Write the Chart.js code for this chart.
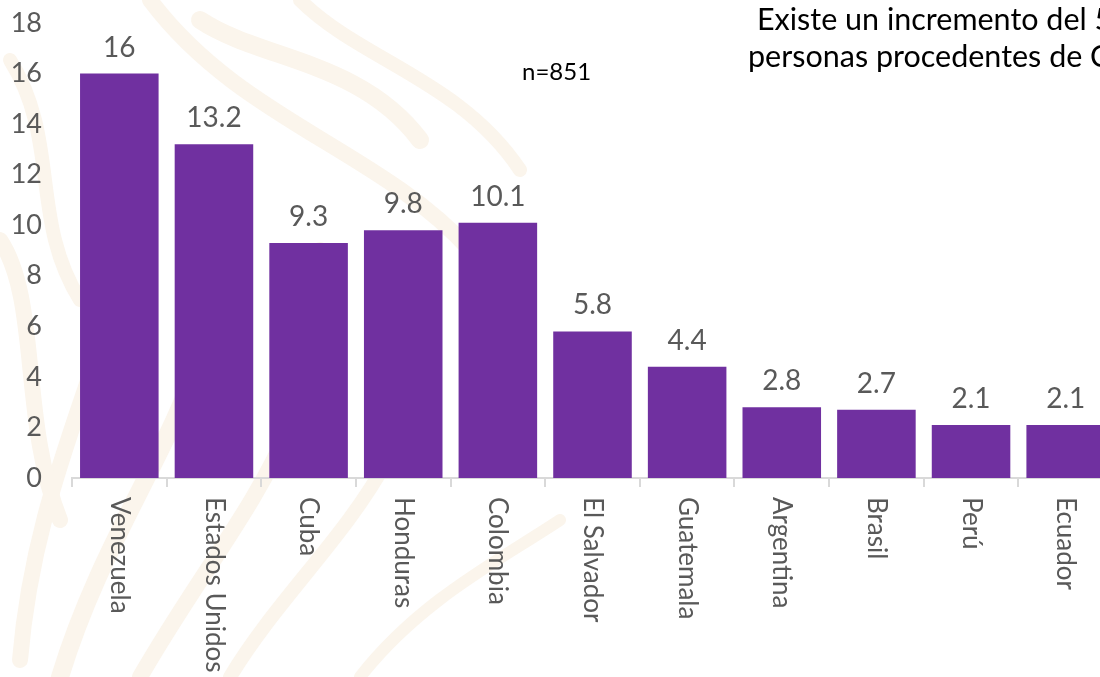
<!DOCTYPE html>
<html>
<head>
<meta charset="utf-8">
<script src="https://cdn.jsdelivr.net/npm/chart.js@4"></script>
<style>
  html, body { margin: 0; padding: 0; background: #fff; overflow: hidden; }
  #wrap { position: relative; width: 1120px; height: 677px; }
</style>
</head>
<body>
<div id="wrap"><canvas id="chart"></canvas></div>
<script>
// ===== DATA =====
const paises  = ['Venezuela', 'Estados Unidos', 'Cuba', 'Honduras', 'Colombia', 'El Salvador',
                 'Guatemala', 'Argentina', 'Brasil', 'Perú', 'Ecuador'];
const valores = [16, 13.2, 9.3, 9.8, 10.1, 5.8, 4.4, 2.8, 2.7, 2.1, 2.1];
const yTicks  = [0, 2, 4, 6, 8, 10, 12, 14, 16, 18];
const nota    = ['Existe un incremento del 5', 'personas procedentes de C'];
const muestra = 'n=851';

const FONT = 'Lato, "Open Sans", sans-serif';
const GRIS = '#595959';
const MORADO = '#7030A0';

// faint watermark swirls behind the chart
const fondo = {
  id: 'fondo',
  beforeDraw(chart) {
    const ctx = chart.ctx;
    ctx.save();
    ctx.fillStyle = '#fff';
    ctx.fillRect(0, 0, chart.width, chart.height);
    ctx.strokeStyle = '#fbf5ec';
    ctx.lineCap = 'round';
    const curvas = [
      [20, 660, 40, 420, 160, 300, 120, 120, 16],
      [60, 677, 120, 480, 240, 380, 220, 180, 18],
      [140, 677, 230, 520, 330, 430, 320, 250, 16],
      [230, 677, 300, 560, 430, 470, 420, 320, 14],
      [200, 20, 260, 60, 360, 60, 420, 140, 18],
      [150, 0, 240, 120, 380, 150, 470, 250, 16],
      [300, 0, 360, 60, 460, 80, 520, 170, 14],
      [0, 240, 40, 300, 20, 420, 60, 520, 16],
      [360, 677, 420, 600, 500, 560, 560, 520, 12],
      [10, 60, 60, 140, 30, 220, 80, 300, 14]
    ];
    curvas.forEach(c => {
      ctx.lineWidth = c[8];
      ctx.beginPath();
      ctx.moveTo(c[0], c[1]);
      ctx.bezierCurveTo(c[2], c[3], c[4], c[5], c[6], c[7]);
      ctx.stroke();
    });
    ctx.restore();
  }
};

// value labels, rotated category labels and text notes
const etiquetas = {
  id: 'etiquetas',
  afterDraw(chart) {
    const ctx = chart.ctx;
    const x = chart.scales.x;
    const meta = chart.getDatasetMeta(0);
    ctx.save();
    ctx.fillStyle = GRIS;
    ctx.font = `28px ${FONT}`;
    ctx.textAlign = 'center';
    ctx.textBaseline = 'bottom';
    meta.data.forEach((bar, i) => {
      ctx.fillText(String(valores[i]), bar.x, bar.y - 12);
    });

    ctx.font = `26px ${FONT}`;
    ctx.textAlign = 'left';
    ctx.textBaseline = 'middle';
    paises.forEach((p, i) => {
      const px = x.getPixelForValue(i);
      ctx.save();
      ctx.translate(px, x.top + 19);
      ctx.rotate(Math.PI / 2);
      ctx.fillText(p, 0, 0);
      ctx.restore();
    });

    ctx.fillStyle = '#000';
    ctx.font = `24px ${FONT}`;
    ctx.textAlign = 'left';
    ctx.fillText(muestra, 522, 72);
    ctx.font = `30.5px ${FONT}`;
    ctx.fillText(nota[0], 757, 20);
    ctx.fillText(nota[1], 748, 57);
    ctx.restore();
  }
};

new Chart(document.getElementById('chart'), {
  type: 'bar',
  data: {
    labels: paises,
    datasets: [{
      data: valores,
      backgroundColor: MORADO,
      borderWidth: 0,
      barPercentage: 0.83,
      categoryPercentage: 1.0
    }]
  },
  options: {
    responsive: true,
    maintainAspectRatio: false,
    animation: false,
    layout: { padding: { top: 23, right: 7, left: 0, bottom: 0 } },
    plugins: {
      legend: { display: false },
      tooltip: { enabled: false }
    },
    scales: {
      x: {
        grid: {
          display: true,
          drawOnChartArea: false,
          drawTicks: true,
          tickLength: 9,
          color: '#d9d9d9',
          lineWidth: 2
        },
        border: { display: true, color: '#d9d9d9', width: 2 },
        ticks: { display: false },
        afterFit(scale) {
          scale.height = 199;
          scale.paddingLeft = 0;
          scale.paddingRight = 0;
        }
      },
      y: {
        min: 0,
        max: 18,
        afterBuildTicks(scale) { scale.ticks = yTicks.map(v => ({ value: v })); },
        grid: { display: false, drawTicks: false },
        border: { display: false },
        ticks: {
          color: GRIS,
          font: { family: FONT, size: 27 },
          padding: 30
        },
        afterFit(scale) {
          scale.width = 72;
          scale.paddingTop = 0;
          scale.paddingBottom = 0;
        }
      }
    }
  },
  plugins: [fondo, etiquetas]
});
</script>
</body>
</html>
